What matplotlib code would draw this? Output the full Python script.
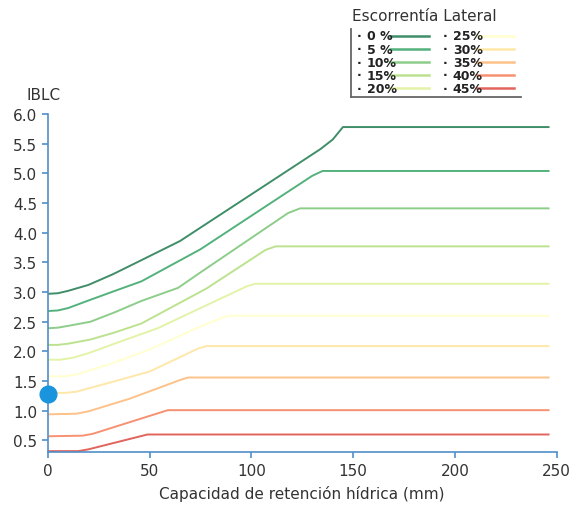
import matplotlib
matplotlib.use("Agg")
import matplotlib.pyplot as plt
from matplotlib.lines import Line2D

# Escorrentia lateral classes and curve points (x = mm, y = IBLC)
labels = ["0 %", "5 %", "10%", "15%", "20%", "25%", "30%", "35%", "40%", "45%"]
colors = ["#006837", "#1a9850", "#66bd63", "#a6d96a", "#d9ef8b",
          "#ffffbf", "#fee08b", "#fdae61", "#f46d43", "#d73027"]

x0 = [0, 5, 10, 20, 32, 45, 65, 114, 134, 140, 145, 246]
y0 = [2.97, 2.98, 3.02, 3.12, 3.30, 3.52, 3.86, 4.96, 5.41, 5.57, 5.78, 5.78]
x5 = [0, 5, 10, 21, 33, 46, 75, 114, 130, 135, 246]
y5 = [2.68, 2.69, 2.73, 2.87, 3.02, 3.18, 3.72, 4.60, 4.96, 5.04, 5.04]
x10 = [0, 5, 10, 21, 33, 46, 64, 75, 118, 124, 246]
y10 = [2.39, 2.40, 2.43, 2.50, 2.66, 2.85, 3.07, 3.33, 4.33, 4.41, 4.41]
x15 = [0, 5, 10, 21, 33, 46, 78, 107, 112, 246]
y15 = [2.11, 2.11, 2.13, 2.20, 2.32, 2.47, 3.06, 3.71, 3.77, 3.77]
x20 = [0, 6, 12, 20, 36, 54, 75, 98, 102, 246]
y20 = [1.86, 1.86, 1.89, 1.97, 2.17, 2.39, 2.73, 3.10, 3.14, 3.14]
x25 = [0, 8, 14, 30, 50, 75, 86, 89, 246]
y25 = [1.58, 1.58, 1.61, 1.78, 2.03, 2.42, 2.57, 2.60, 2.60]
x30 = [0, 8, 14, 30, 50, 74, 78, 246]
y30 = [1.30, 1.30, 1.32, 1.47, 1.66, 2.05, 2.09, 2.09]
x35 = [0, 14, 20, 40, 66, 69, 246]
y35 = [0.94, 0.95, 0.99, 1.20, 1.53, 1.56, 1.56]
x40 = [0, 17, 22, 59, 246]
y40 = [0.57, 0.58, 0.61, 1.01, 1.01]
x45 = [0, 15, 20, 49, 246]
y45 = [0.32, 0.32, 0.35, 0.60, 0.60]

xs = [x0, x5, x10, x15, x20, x25, x30, x35, x40, x45]
ys = [y0, y5, y10, y15, y20, y25, y30, y35, y40, y45]

point_x = 0
point_y = 1.28

xticks = [0, 50, 100, 150, 200, 250]
yticks = [0.5, 1.0, 1.5, 2.0, 2.5, 3.0, 3.5, 4.0, 4.5, 5.0, 5.5, 6.0]

W, H = 581, 506
fig = plt.figure(figsize=(W / 100, H / 100), dpi=100)
ax = fig.add_axes([47.7 / W, 1 - 453.3 / H, (556.7 - 47.7) / W, (453.3 - 115) / H])

for xv, yv, c in zip(xs, ys, colors):
    ax.plot(xv, yv, color=c, lw=1.4, alpha=0.75, solid_joinstyle="round")

ax.plot([point_x], [point_y], "o", ms=12, color="#1a94dd", clip_on=False, zorder=5)

ax.set_xlim(0, 250)
ax.set_ylim(0.3, 6.0)
ax.set_xticks(xticks)
ax.set_yticks(yticks)
ax.set_yticklabels([f"{v:.1f}" for v in yticks])

spine_c = "#4f8fc9"
for s in ["top", "right"]:
    ax.spines[s].set_visible(False)
for s in ["left", "bottom"]:
    ax.spines[s].set_color(spine_c)
    ax.spines[s].set_linewidth(1.2)
ax.tick_params(colors=spine_c, labelcolor="#333333", labelsize=11, length=4, width=1.2)

ax.set_xlabel("Capacidad de retención hídrica (mm)", fontsize=11, color="#333333", labelpad=5)
fig.text(27 / W, 1 - 95 / H, "IBLC", fontsize=11, color="#333333", va="center")

# legend drawn by hand
fig.text(351.7 / W, 1 - 16.7 / H, "Escorrentía Lateral", fontsize=11, color="#333333", va="center")
legc = "#666666"
fig.add_artist(Line2D([351 / W, 351 / W], [1 - 30 / H, 1 - 98.3 / H], color=legc, lw=1.3))
fig.add_artist(Line2D([351 / W, 521 / W], [1 - 98.3 / H, 1 - 98.3 / H], color=legc, lw=1.3))
rows = [36.7, 50, 63.3, 76, 89.3]
cols = [(359, 366.7, 390, 429.3), (445, 452.7, 476.7, 514)]
for i, (lab, c) in enumerate(zip(labels, colors)):
    dot_x, txt_x, l0, l1 = cols[i // 5]
    yy = 1 - rows[i % 5] / H
    fig.add_artist(Line2D([l0 / W, l1 / W], [yy, yy], color=c, lw=1.8, alpha=0.75))
    fig.text(dot_x / W, yy, "·", fontsize=9, fontweight="bold", ha="center", va="center", color="#222222")
    fig.text(txt_x / W, yy, lab, fontsize=9, fontweight="bold", va="center", color="#222222")

fig.savefig("out.png", dpi=100)
